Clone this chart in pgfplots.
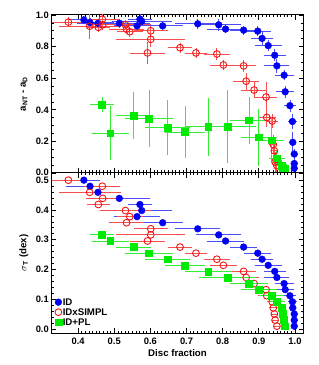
\documentclass[border=0pt]{standalone}
\usepackage{fontspec}
\setmainfont{Liberation Sans}
\usepackage{pgfplots}
\usepackage{pgfplotstable}
\pgfplotsset{compat=1.18}

\definecolor{cblue}{RGB}{0,0,245}
\definecolor{cred}{RGB}{245,20,20}
\definecolor{cgreen}{RGB}{0,235,0}

% x = disc fraction, ex = x error, yt/eyt = top panel value/error, yb = sigma_T
\pgfplotstableread{
x     ex     yt     eyt    yb
0.416 0.038 0.969 0.015 0.5000
0.433 0.060 0.952 0.015 0.4796
0.455 0.053 0.948 0.015 0.4592
0.514 0.078 0.948 0.015 0.4388
0.571 0.027 0.974 0.025 0.4183
0.576 0.078 0.960 0.020 0.3979
0.563 0.058 0.931 0.020 0.3775
0.634 0.050 0.931 0.020 0.3571
0.731 0.057 0.944 0.020 0.3367
0.789 0.057 0.938 0.025 0.3163
0.808 0.045 0.911 0.015 0.2958
0.858 0.031 0.904 0.015 0.2754
0.897 0.032 0.898 0.020 0.2550
0.909 0.026 0.852 0.030 0.2346
0.926 0.032 0.806 0.020 0.2142
0.944 0.025 0.745 0.025 0.1938
0.950 0.029 0.678 0.030 0.1733
0.970 0.021 0.619 0.020 0.1529
0.973 0.020 0.514 0.025 0.1325
0.986 0.011 0.426 0.025 0.1121
0.993 0.007 0.326 0.035 0.0917
0.994 0.004 0.194 0.050 0.0713
0.998 0.004 0.120 0.020 0.0508
0.998 0.004 0.060 0.030 0.0304
0.998 0.004 0.030 0.030 0.0100
}\tblID

\pgfplotstableread{
x     ex     yt     eyt    yb
0.373 0.040 0.955 0.020 0.5000
0.467 0.044 0.973 0.020 0.4796
0.432 0.080 0.929 0.070 0.4592
0.468 0.042 0.938 0.020 0.4388
0.456 0.027 0.922 0.020 0.4183
0.531 0.066 0.938 0.020 0.3979
0.543 0.030 0.894 0.020 0.3775
0.534 0.043 0.910 0.020 0.3571
0.601 0.041 0.900 0.020 0.3367
0.601 0.090 0.846 0.035 0.3163
0.592 0.043 0.760 0.055 0.2958
0.682 0.028 0.793 0.020 0.2754
0.726 0.026 0.760 0.020 0.2550
0.784 0.031 0.753 0.025 0.2346
0.802 0.031 0.684 0.020 0.2142
0.858 0.029 0.678 0.025 0.1938
0.865 0.030 0.581 0.040 0.1733
0.887 0.030 0.525 0.040 0.1529
0.920 0.025 0.481 0.080 0.1325
0.922 0.019 0.352 0.050 0.1121
0.937 0.010 0.329 0.030 0.0917
0.940 0.006 0.180 0.050 0.0713
0.943 0.005 0.140 0.040 0.0508
0.945 0.004 0.070 0.050 0.0304
0.950 0.004 0.046 0.050 0.0100
}\tblSIMPL

\pgfplotstableread{
x     ex     yt     eyt    yb
0.466 0.027 0.433 0.037 0.3163
0.489 0.046 0.252 0.160 0.2958
0.554 0.043 0.365 0.136 0.2754
0.596 0.062 0.346 0.168 0.2550
0.648 0.057 0.288 0.164 0.2346
0.696 0.050 0.260 0.151 0.2142
0.760 0.059 0.294 0.171 0.1938
0.814 0.074 0.294 0.220 0.1733
0.873 0.048 0.334 0.136 0.1529
0.900 0.045 0.226 0.168 0.1325
0.935 0.030 0.207 0.120 0.1121
0.950 0.017 0.094 0.030 0.0917
0.963 0.008 0.047 0.020 0.0713
0.967 0.005 0.032 0.020 0.0508
0.969 0.005 0.028 0.020 0.0304
0.971 0.005 0.025 0.020 0.0100
}\tblPL

\pgfplotsset{
  panel/.style={
    scale only axis, width=253bp,
    xmin=0.325, xmax=1.025,
    xtick={0.4,0.5,0.6,0.7,0.8,0.9,1.0},
    minor x tick num=9,
    tick align=inside,
    xtick pos=both, ytick pos=both,
    major tick length=5bp, minor tick length=2.5bp,
    axis line style={line width=1bp},
    every tick/.style={black, line width=0.7bp},
    tick label style={font=\fontsize{9.4}{10}\selectfont\bfseries},
    label style={font=\fontsize{9.7}{10}\selectfont\bfseries},
    /pgf/number format/.cd, fixed, fixed zerofill, precision=1, assume math mode=true,
    /pgfplots/.cd,
    yticklabel style={inner sep=1bp, xshift=-1bp},
    xticklabel style={inner sep=0bp, yshift=-5bp},
    ylabel style={at={(axis description cs:-0.107,0.5)}, anchor=center},
  },
  ebID/.style={only marks, mark=*, mark size=3.4bp, color=cblue,
    error bars/.cd, x dir=both, x explicit,
    error bar style={cblue!70, line width=0.8bp},
    error mark options={cblue!70, mark size=2bp, line width=0.8bp},
    /pgfplots/.cd},
  ebSIMPL/.style={only marks, mark=o, mark size=3.4bp, color=cred, mark options={line width=0.9bp},
    error bars/.cd, x dir=both, x explicit,
    error bar style={cred!75, line width=0.8bp},
    error mark options={cred!75, mark size=2bp, line width=0.8bp},
    /pgfplots/.cd},
  ebPL/.style={only marks, mark=square*, mark size=3.4bp, color=cgreen,
    error bars/.cd, x dir=both, x explicit,
    error bar style={cgreen!80, line width=0.8bp},
    error mark options={cgreen!80, mark size=2bp, line width=0.8bp},
    /pgfplots/.cd},
  yerr/.style={error bars/.cd, y dir=both, y explicit, /pgfplots/.cd},
}

\begin{document}
\begin{tikzpicture}
\useasboundingbox (0,0) rectangle (319bp,365bp);

% top panel
\begin{axis}[panel, at={(51bp,192bp)}, anchor=south west, height=158bp,
  ymin=0, ymax=1.0, ytick={0,0.2,0.4,0.6,0.8,1.0}, minor y tick num=3,
  yticklabels={\raisebox{2.5bp}{0.0},0.2,0.4,0.6,0.8,1.0},
  xticklabels={},
  ylabel={a\textsubscript{NT} - a\textsubscript{D}}]
\addplot[ebID, yerr] table[x=x, y=yt, x error=ex, y error=eyt] {\tblID};
\addplot[ebSIMPL, yerr] table[x=x, y=yt, x error=ex, y error=eyt] {\tblSIMPL};
\addplot[ebPL, yerr] table[x=x, y=yt, x error=ex, y error=eyt] {\tblPL};
\end{axis}

% bottom panel
\begin{axis}[panel, at={(51bp,32bp)}, anchor=south west, height=160bp,
  ymin=-0.013, ymax=0.524, ytick={0,0.1,0.2,0.3,0.4,0.5}, minor y tick num=4,
  xlabel={Disc fraction},
  xlabel style={at={(axis description cs:0.5,-0.125)}, anchor=center},
  ylabel={$\sigma$\textsubscript{T} (dex)},
  legend style={at={(0.015,0.04)}, anchor=south west, draw=none, fill=none,
    font=\fontsize{9.7}{10}\selectfont\bfseries, inner sep=0bp, row sep=1.5bp,
    nodes={inner sep=1bp, text height=6.5bp, text depth=0bp}},
  legend cell align=left,
  legend image code/.code={\draw[#1] plot coordinates {(2bp,0bp)};}]
\addplot[ebID, forget plot] table[x=x, y=yb, x error=ex] {\tblID};
\addplot[ebSIMPL, forget plot] table[x=x, y=yb, x error=ex] {\tblSIMPL};
\addplot[ebPL, forget plot] table[x=x, y=yb, x error=ex] {\tblPL};
\addlegendimage{only marks, mark=*, mark size=3.4bp, color=cblue}
\addlegendentry{ID}
\addlegendimage{only marks, mark=o, mark size=3.4bp, color=cred, mark options={line width=0.9bp}}
\addlegendentry{IDxSIMPL}
\addlegendimage{only marks, mark=square*, mark size=3.4bp, color=cgreen}
\addlegendentry{ID+PL}
\end{axis}
\end{tikzpicture}
\end{document}
